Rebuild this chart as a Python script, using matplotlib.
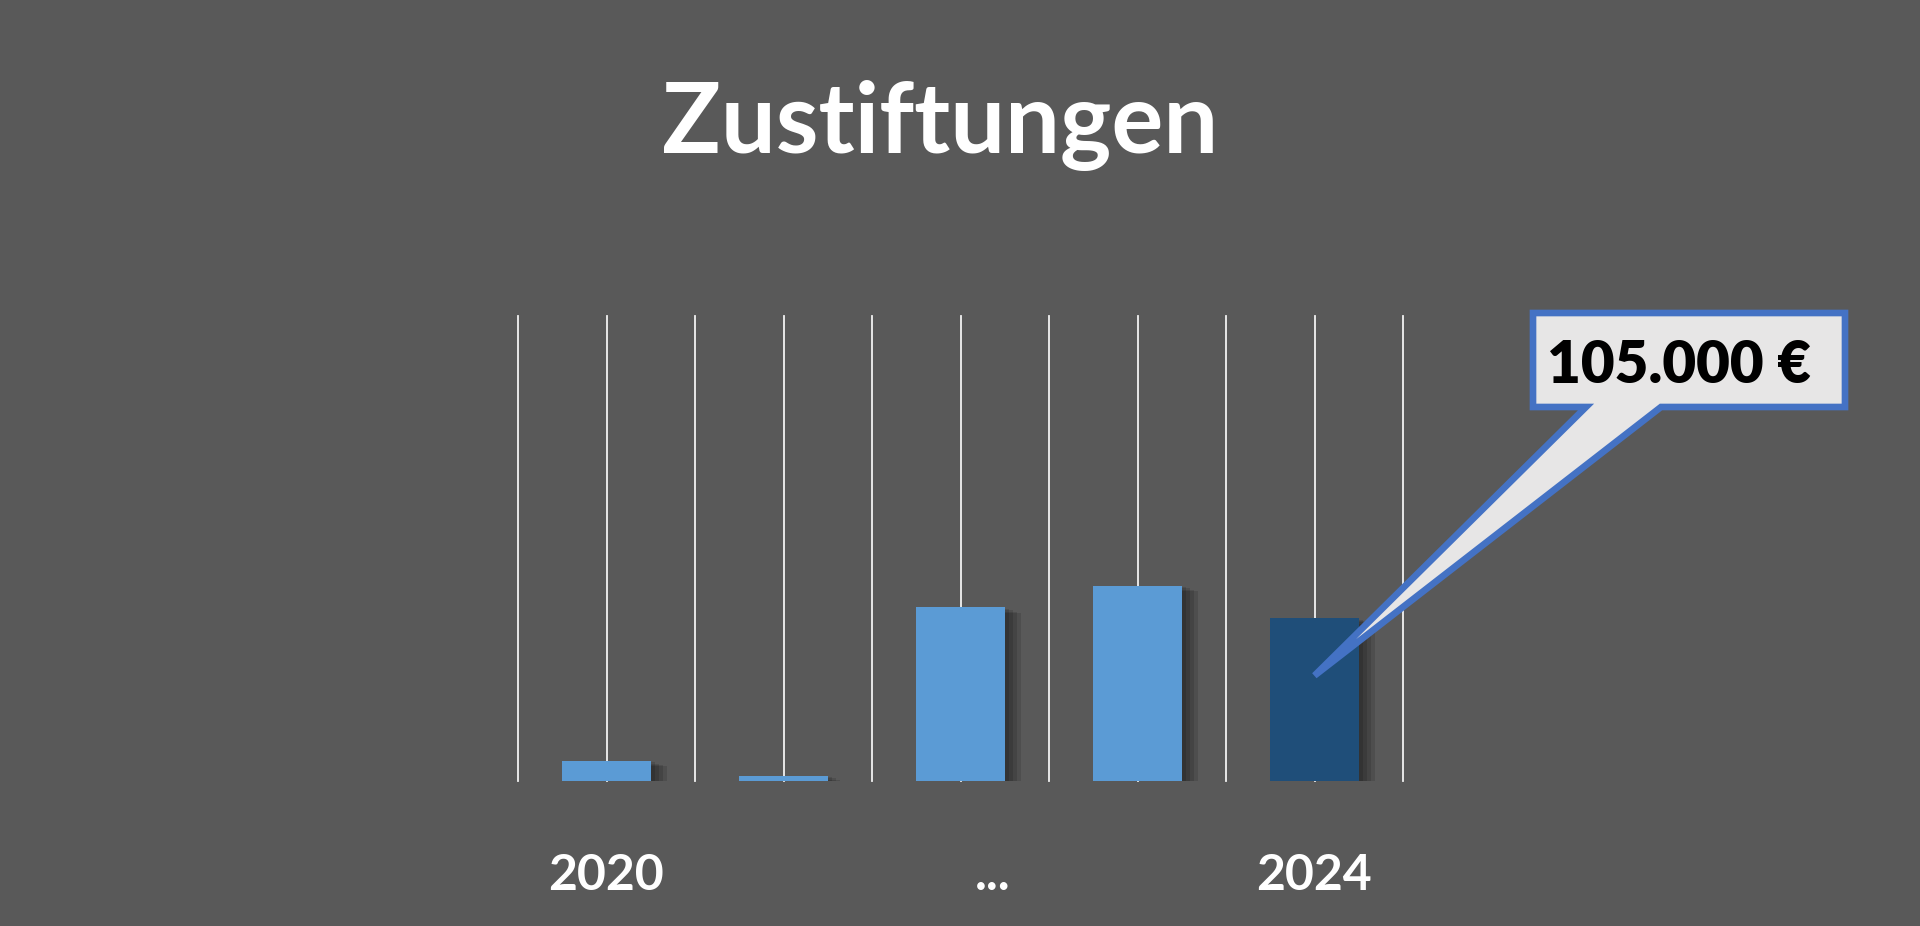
import numpy as np
import matplotlib
matplotlib.use("Agg")
import matplotlib.pyplot as plt
from matplotlib import patheffects
from matplotlib.patches import Polygon
from matplotlib.transforms import IdentityTransform

# =========================
# Data
# =========================
years = ["2020", "2021", "2022", "2023", "2024"]
amounts = [13000, 3500, 112000, 126000, 105000]
bar_colors = ["#5B9BD5", "#5B9BD5", "#5B9BD5", "#5B9BD5", "#1F4E79"]

tick_labels = ["2020", "...", "2024"]
tick_positions = [0, 2.18, 4]

title = "Zustiftungen"
y_max = 300000

BG = "#595959"
W, H, DPI = 1920, 926, 100
FONT = ["Lato", "DejaVu Sans"]


def euro(v):
    return f"{v:,.0f}".replace(",", ".") + " \u20ac"


def draw_callout(fig, ax, value_idx, tip_value):
    # callout box + tail, built in pixel coords (origin bottom-left)
    tip = ax.transData.transform((value_idx, tip_value))
    left, right, top, bottom = 1533, 1845, 313, 407
    base_l, base_r = 1586, 1661
    pts = [
        (left, top), (right, top), (right, bottom), (base_r, bottom),
        (tip[0], H - tip[1]), (base_l, bottom), (left, bottom),
    ]
    pts = [(x, H - y) for x, y in pts]
    poly = Polygon(pts, closed=True, transform=IdentityTransform(),
                   facecolor="#E7E6E6", edgecolor="#4472C4", linewidth=4.8,
                   joinstyle="miter", zorder=10)
    fig.add_artist(poly)
    fig.text((left + right) / 2 / W - 0.005, 1 - 383 / H, euro(amounts[value_idx]),
             ha="center", va="baseline", fontsize=42, fontweight="heavy",
             family=FONT, color="black", zorder=11)


def main():
    fig = plt.figure(figsize=(W / DPI, H / DPI), dpi=DPI, facecolor=BG)
    ax = fig.add_axes([518 / W, 1 - 781 / H, (1403 - 518) / W, (781 - 316) / H])
    ax.set_facecolor(BG)
    ax.set_xlim(-0.5, len(years) - 0.5)
    ax.set_ylim(0, y_max)
    for s in ax.spines.values():
        s.set_visible(False)
    ax.set_xticks([])
    ax.set_yticks([])

    # vertical grid lines at category centres and boundaries
    for gx in np.arange(-0.5, len(years), 0.5):
        ax.axvline(gx, color="#F2F2F2", linewidth=1.3, zorder=1, clip_on=False)

    x = np.arange(len(years))
    bars = ax.bar(x, amounts, width=0.5, color=bar_colors, zorder=3)
    # soft shadow to the right of each bar
    shadow = [patheffects.SimplePatchShadow(offset=(o, -o / 3), shadow_rgbFace="black", alpha=0.12)
              for o in (12, 9, 6, 3)]
    for b in bars:
        b.set_path_effects(shadow + [patheffects.Normal()])

    for pos, lab in zip(tick_positions, tick_labels):
        ax.text(pos, (781 - 890) / (781 - 316), lab, transform=ax.get_xaxis_transform(),
                ha="center", va="baseline", fontsize=36, fontweight="bold",
                family=FONT, color="white")

    fig.text(940 / W, 1 - 153 / H, title, ha="center", va="baseline",
             fontsize=70, fontweight="bold", family=FONT, color="white")

    draw_callout(fig, ax, 4, 68000)

    fig.savefig("out.png", dpi=DPI, facecolor=BG)


if __name__ == "__main__":
    main()
